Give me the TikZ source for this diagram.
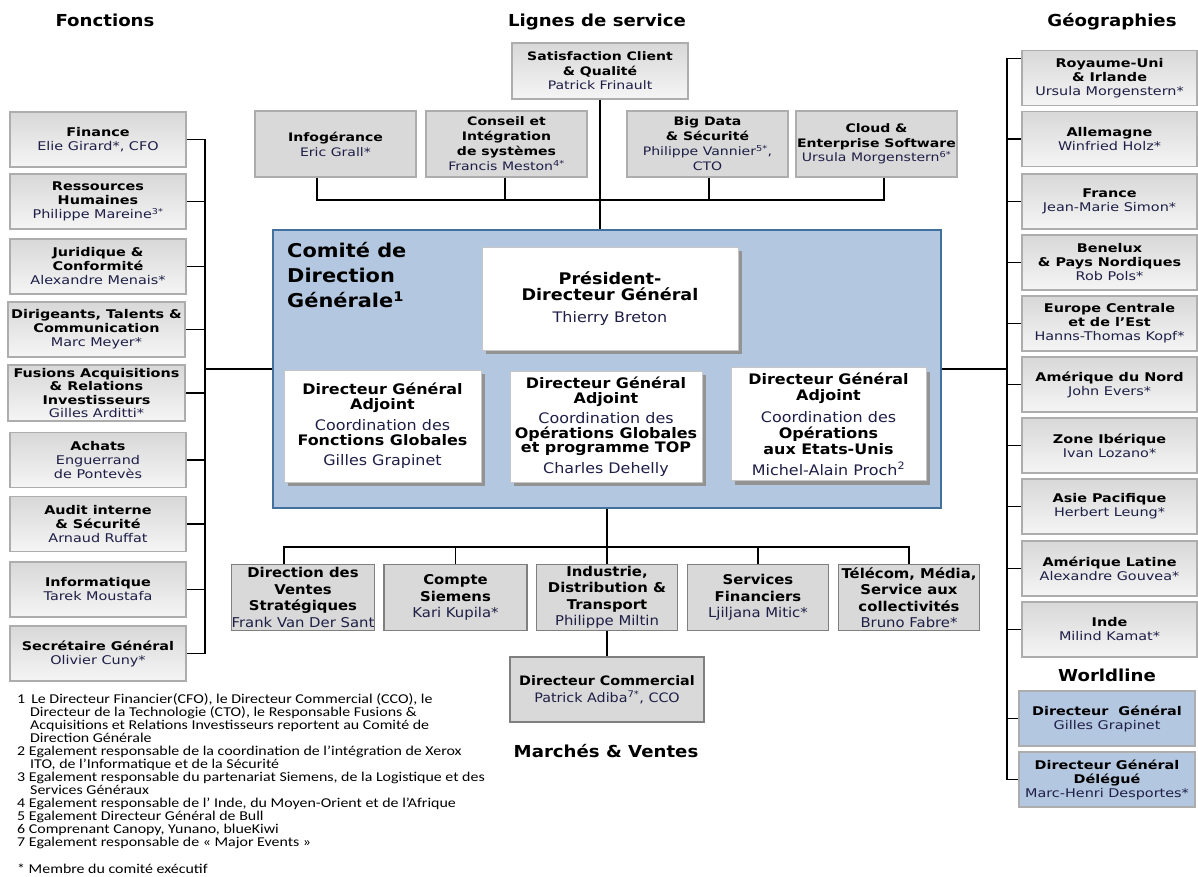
\documentclass[tikz,border=0pt]{standalone}
\usepackage{fontspec}
\setmainfont{DejaVu Sans}
\newfontfamily\wfont[FakeStretch=1.2]{DejaVu Sans}
\newfontfamily\mfont[FakeStretch=1.1]{DejaVu Sans}
\newfontfamily\calfont[FakeStretch=1.18]{Carlito}
\usetikzlibrary{shadows}
\definecolor{cblue}{HTML}{B4C7E0}
\definecolor{cbord}{HTML}{41719C}
\definecolor{gsolid}{HTML}{D9D9D9}
\definecolor{gtop}{HTML}{D8D8D8}
\definecolor{gbot}{HTML}{F5F5F5}
\definecolor{gline}{HTML}{ADADAD}
\definecolor{bline}{HTML}{7F7F7F}
\definecolor{namecol}{HTML}{1E1E46}
\newcommand{\nm}[1]{{\color{namecol}#1}}
\newcommand{\fsz}[2]{\fontsize{#1}{#2}\selectfont}
\begin{document}
\begin{tikzpicture}[x=1pt,y=-1pt,
  conn/.style={draw=black, line width=1.3pt},
  lr/.style={draw=gline, line width=1.4pt, top color=gtop, bottom color=gbot,
     minimum width=176pt, minimum height=55pt, inner sep=0pt, align=center,
     font=\wfont\fsz{12}{14}},
  tbx/.style={draw=gline, line width=1.4pt, fill=gsolid,
     minimum width=161pt, minimum height=66pt, inner sep=0pt, align=center,
     font=\wfont\fsz{11.7}{15}},
  wlbox/.style={draw=gline, line width=1.4pt, fill=cblue,
     minimum width=176pt, minimum height=55pt, inner sep=0pt, align=center,
     font=\wfont\fsz{12}{14}},
  wbox/.style={draw=gray!45, line width=0.8pt, fill=white, inner sep=0pt, align=center,
     drop shadow={shadow xshift=4pt, shadow yshift=-4pt, fill=gray!85, opacity=1}},
  bbox/.style={draw=bline, line width=1.4pt, fill=gsolid,
     minimum width=141pt, minimum height=66pt, inner sep=0pt, align=center,
     font=\mfont\fsz{13.5}{16.5}},
  hdr/.style={font=\mfont\fsz{16.5}{18}\bfseries, inner sep=0pt, anchor=base}
]
\useasboundingbox (0,0) rectangle (1198,877);
\fill[white] (0,0) rectangle (1198,877);

% headers
\node[hdr] (hfon) at (105,27) {Fonctions};
\node[hdr] (hlig) at (597,27) {Lignes de service};
\node[hdr] (hgeo) at (1112,27) {Géographies};
\node[hdr] (hwl) at (1107,681) {Worldline};
\node[hdr] (hmar) at (606,757) {Marchés \& Ventes};

% comite
\node[draw=cbord, fill=cblue, line width=1.3pt, minimum width=668pt, minimum height=278pt] (com) at (607,369) {};
\node[font=\mfont\fsz{19}{25}\bfseries, align=left, anchor=north west, inner sep=0pt] (comt) at (287,242) {Comité de\\Direction\\Générale\textsuperscript{1}};

\node[wbox, minimum width=256pt, minimum height=103pt, font=\mfont\fsz{16}{16.5}] (pdg) at (610,298.5)
  {\textbf{Président-}\\\textbf{Directeur Général}\\[5pt]{\fsz{14.5}{14}\nm{Thierry Breton}}};
\node[wbox, minimum width=197pt, minimum height=112pt, font=\mfont\fsz{14.5}{15}] (dga1) at (382.5,426)
  {\textbf{Directeur Général}\\\textbf{Adjoint}\\[6pt]\nm{Coordination des}\\\textbf{Fonctions Globales}\\[5pt]\nm{Gilles Grapinet}};
\node[wbox, minimum width=192pt, minimum height=111pt, font=\mfont\fsz{14.5}{14.5}] (dga2) at (606,426.5)
  {\textbf{Directeur Général}\\\textbf{Adjoint}\\[6pt]\nm{Coordination des}\\\textbf{Opérations Globales}\\\textbf{et programme TOP}\\[6pt]\nm{Charles Dehelly}};
\node[wbox, minimum width=195pt, minimum height=113pt, font=\mfont\fsz{14.5}{16}] (dga3) at (828.5,424)
  {\textbf{Directeur Général}\\\textbf{Adjoint}\\[6pt]\nm{Coordination des}\\\textbf{Opérations}\\\textbf{aux Etats-Unis}\\[5pt]\nm{Michel-Alain Proch\textsuperscript{2}}};

% left column
\node[lr] (fin) at (98,139.5) {\textbf{Finance}\\\nm{Elie Girard*, CFO}};
\node[lr] (rh) at (98,201.5) {\textbf{Ressources}\\\textbf{Humaines}\\\nm{Philippe Mareine\textsuperscript{3*}}};
\node[lr] (jur) at (98,266.5) {\textbf{Juridique \&}\\\textbf{Conformité}\\\nm{Alexandre Menais*}};
\node[lr, minimum width=177pt] (dir) at (96.5,329.5) {\textbf{Dirigeants, Talents \&}\\\textbf{Communication}\\\nm{Marc Meyer*}};
\node[lr, minimum width=177pt, minimum height=56pt, font=\wfont\fsz{12}{13.5}] (fus) at (96.5,393) {\textbf{Fusions Acquisitions}\\\textbf{\& Relations}\\\textbf{Investisseurs}\\\nm{Gilles Arditti*}};
\node[lr] (ach) at (98,460) {\textbf{Achats}\\\nm{Enguerrand}\\\nm{de Pontevès}};
\node[lr] (aud) at (98,524) {\textbf{Audit interne}\\\textbf{\& Sécurité}\\\nm{Arnaud Ruffat}};
\node[lr] (inf) at (98,589.5) {\textbf{Informatique}\\\nm{Tarek Moustafa}};
\node[lr] (sec) at (98,653.5) {\textbf{Secrétaire Général}\\\nm{Olivier Cuny*}};

\coordinate (lb) at (205,369);
\draw[conn] (fin.east) -- (fin.east -| lb) -- (sec.east -| lb) -- (sec.east);
\foreach \n in {rh,jur,dir,fus,ach,aud,inf} {\draw[conn] (\n.east) -- (\n.east -| lb);}
\draw[conn] (lb) -- (lb -| com.west);

% top row
\node[lr, minimum height=56pt, font=\wfont\fsz{11.7}{14.5}] (sat) at (600,71) {\textbf{Satisfaction Client}\\\textbf{\& Qualité}\\\nm{Patrick Frinault}};
\node[tbx] (info) at (335.5,144) {\textbf{Infogérance}\\\nm{Eric Grall*}};
\node[tbx] (cons) at (506.5,144) {\textbf{Conseil et}\\\textbf{Intégration}\\\textbf{de systèmes}\\\nm{Francis Meston\textsuperscript{4*}}};
\node[tbx] (big) at (707.5,144) {\textbf{Big Data}\\\textbf{\& Sécurité}\\\nm{Philippe Vannier\textsuperscript{5*},}\\\nm{CTO}};
\node[tbx, font=\wfont\fsz{11.7}{14.5}] (cloud) at (876.5,144) {\textbf{Cloud \&}\\\textbf{Enterprise Software}\\\nm{Ursula Morgenstern\textsuperscript{6*}}};

\coordinate (tb) at (0,200);
\draw[conn] (sat.south) -- (sat.south |- com.north);
\draw[conn] ([xshift=-18.5pt]info.south) -- ([xshift=-18.5pt]info.south |- tb) -- ([xshift=7.5pt]cloud.south |- tb) -- ([xshift=7.5pt]cloud.south);
\draw[conn] ([xshift=-1.5pt]cons.south) -- ([xshift=-1.5pt]cons.south |- tb);
\draw[conn] ([xshift=1.5pt]big.south) -- ([xshift=1.5pt]big.south |- tb);

% right column
\tikzset{rr/.style={lr, minimum width=175pt}}
\node[rr] (uk) at (1109.5,78) {\textbf{Royaume-Uni}\\\textbf{\& Irlande}\\\nm{Ursula Morgenstern*}};
\node[rr] (de) at (1109.5,139) {\textbf{Allemagne}\\\nm{Winfried Holz*}};
\node[rr] (fr) at (1109.5,201.5) {\textbf{France}\\\nm{Jean-Marie Simon*}};
\node[rr] (bnl) at (1109.5,262.5) {\textbf{Benelux}\\\textbf{\& Pays Nordiques}\\\nm{Rob Pols*}};
\node[rr] (eur) at (1109.5,323.5) {\textbf{Europe Centrale}\\\textbf{et de l’Est}\\\nm{Hanns-Thomas Kopf*}};
\node[rr] (amn) at (1109.5,384.5) {\textbf{Amérique du Nord}\\\nm{John Evers*}};
\node[rr] (ib) at (1109.5,445.5) {\textbf{Zone Ibérique}\\\nm{Ivan Lozano*}};
\node[rr] (asi) at (1109.5,506.5) {\textbf{Asie Pacifique}\\\nm{Herbert Leung*}};
\node[rr] (aml) at (1109.5,568.5) {\textbf{Amérique Latine}\\\nm{Alexandre Gouvea*}};
\node[rr] (ind) at (1109.5,629.5) {\textbf{Inde}\\\nm{Milind Kamat*}};
\node[wlbox] (wdg) at (1107,718.5) {\textbf{Directeur\ \ Général}\\\nm{Gilles Grapinet}};
\node[wlbox] (wdgd) at (1107,779.5) {\textbf{Directeur Général}\\\textbf{Délégué}\\\nm{Marc-Henri Desportes*}};

\coordinate (rb) at (1007,369);
\draw[conn] ([yshift=-9pt]uk.north west) -- ([yshift=-9pt]uk.north west -| rb) -- (wdgd.west -| rb) -- (wdgd.west);
\foreach \n in {de,fr,bnl,eur,amn,ib,asi,aml,ind,wdg} {\draw[conn] (\n.west) -- (\n.west -| rb);}
\draw[conn] (com.east) -- (com.east -| rb);

% bottom
\node[bbox] (dvs) at (303,597.5) {\textbf{Direction des}\\\textbf{Ventes}\\\textbf{Stratégiques}\\\nm{Frank Van Der Sant}};
\node[bbox, minimum width=143pt] (sie) at (455.5,597.5) {\textbf{Compte}\\\textbf{Siemens}\\\nm{Kari Kupila*}};
\node[bbox] (indu) at (607,597.5) {\textbf{Industrie,}\\\textbf{Distribution \&}\\\textbf{Transport}\\\nm{Philippe Miltin}};
\node[bbox] (sfi) at (758,597.5) {\textbf{Services}\\\textbf{Financiers}\\\nm{Ljiljana Mitic*}};
\node[bbox] (tel) at (909,597.5) {\textbf{Télécom, Média,}\\\textbf{Service aux}\\\textbf{collectivités}\\\nm{Bruno Fabre*}};
\node[bbox, minimum width=194pt, minimum height=65pt, font=\mfont\fsz{13}{17}] (dcom) at (607,689.5) {\textbf{Directeur Commercial}\\\nm{Patrick Adiba\textsuperscript{7*}, CCO}};

\coordinate (bb) at (0,547);
\draw[conn] (com.south) -- (com.south |- bb);
\draw[conn] ([xshift=-19pt]dvs.north) -- ([xshift=-19pt]dvs.north |- bb) -- (tel.north |- bb) -- (tel.north);
\foreach \n in {sie,indu,sfi} {\draw[conn] (\n.north) -- (\n.north |- bb);}
\draw[conn] (indu.south) -- (dcom.north);

% footnotes
\node[anchor=north west, align=left, inner sep=0pt, font=\calfont\fsz{13.5}{13}] (notes) at (17,693)
{1\hspace{6pt}Le Directeur Financier(CFO), le Directeur Commercial (CCO), le\\
\hspace*{13pt}Directeur de la Technologie (CTO), le Responsable Fusions \&\\
\hspace*{13pt}Acquisitions et Relations Investisseurs reportent au Comité de\\
\hspace*{13pt}Direction Générale\\
2 Egalement responsable de la coordination de l’intégration de Xerox\\
\hspace*{13pt}ITO, de l’Informatique et de la Sécurité\\
3 Egalement responsable du partenariat Siemens, de la Logistique et des\\
\hspace*{13pt}Services Généraux\\
4 Egalement responsable de l’ Inde, du Moyen-Orient et de l’Afrique\\
5 Egalement Directeur Général de Bull\\
6 Comprenant Canopy, Yunano, blueKiwi\\
7 Egalement responsable de « Major Events »\\[14pt]
* Membre du comité exécutif};
\end{tikzpicture}
\end{document}
